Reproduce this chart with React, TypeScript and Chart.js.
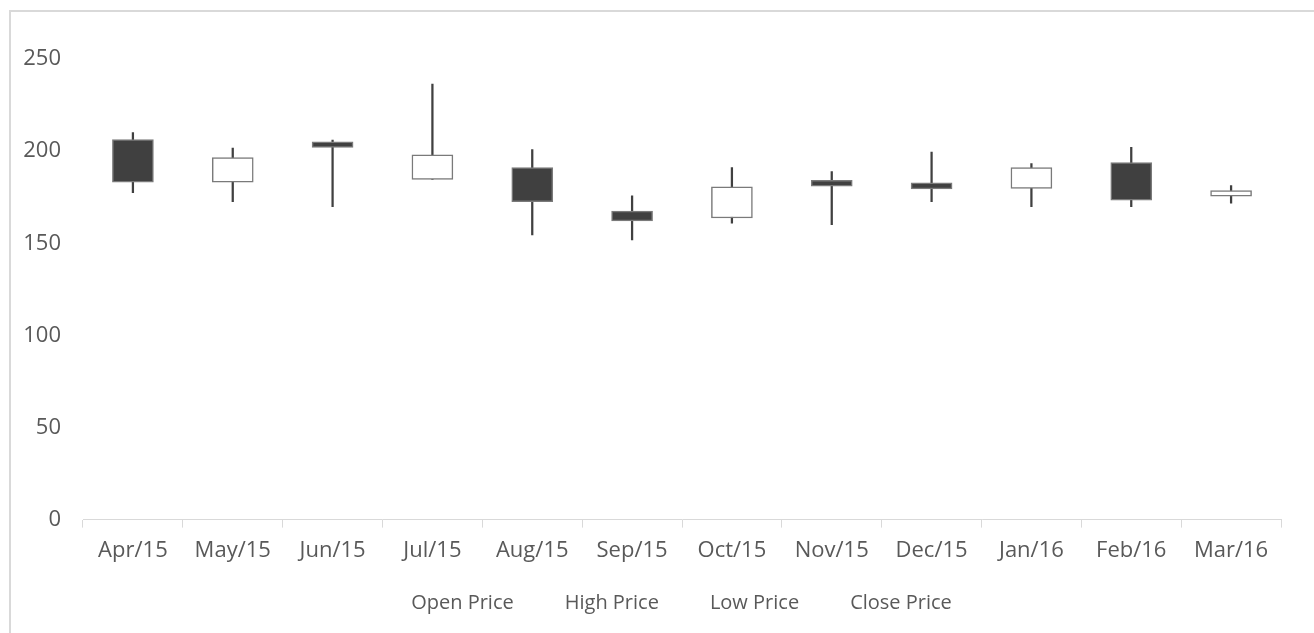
import React, { useEffect, useRef } from "react";
import { Chart, registerables } from "chart.js";

Chart.register(...registerables);

const categories = ["Apr/15", "May/15", "Jun/15", "Jul/15", "Aug/15", "Sep/15", "Oct/15", "Nov/15", "Dec/15", "Jan/16", "Feb/16", "Mar/16"];
const openPrice = [206.3, 183.2, 205.1, 184.6, 191.1, 167.4, 163.7, 184.2, 182.8, 179.7, 193.8, 175.5];
const highPrice = [210.0, 201.6, 206.0, 236.4, 200.9, 175.7, 191.1, 188.9, 199.5, 193.3, 202.0, 181.3];
const lowPrice = [177.5, 172.6, 169.9, 184.6, 154.5, 151.8, 160.9, 160.1, 172.6, 169.9, 169.9, 171.7];
const closePrice = [183.2, 196.5, 202.0, 198.0, 172.6, 162.1, 180.6, 181.0, 179.5, 191.1, 173.4, 178.6];
const legendNames = ["Open Price", "High Price", "Low Price", "Close Price"];
const yTicks = [0, 50, 100, 150, 200, 250];

const TEXT = "#595959";
const LINE = "#d9d9d9";
const DARK = "#404040";

const shiftLegend = {
  id: "shiftLegend",
  afterLayout(chart: any) {
    const l = chart.legend;
    if (l) {
      l.left += 25;
      l.right += 25;
    }
  },
};

export default function App() {
  const ref = useRef<HTMLCanvasElement | null>(null);

  useEffect(() => {
    if (!ref.current) return;
    const chart = new Chart(ref.current, {
      type: "bar",
      data: {
        labels: categories,
        datasets: [
          {
            label: "Wick",
            data: categories.map((_, i) => [lowPrice[i], highPrice[i]]),
            backgroundColor: DARK,
            borderWidth: 0,
            barThickness: 1.6,
            grouped: false,
            order: 2,
          } as any,
          {
            label: "Body",
            data: categories.map((_, i) => [openPrice[i], closePrice[i]]),
            backgroundColor: categories.map((_, i) => (closePrice[i] < openPrice[i] ? DARK : "#ffffff")),
            borderColor: "#7a7a7a",
            borderWidth: 1.5,
            borderSkipped: false,
            barThickness: 41,
            grouped: false,
            order: 1,
          } as any,
        ],
      },
      options: {
        animation: false,
        responsive: false,
        layout: { padding: { top: 59, bottom: 10, left: 0, right: 55 } },
        font: { family: "'Open Sans'" },
        plugins: {
          tooltip: { enabled: false },
          legend: {
            position: "bottom",
            labels: {
              boxWidth: 22,
              boxHeight: 0,
              padding: 19,
              color: TEXT,
              font: { family: "'Open Sans'", size: 20 },
              generateLabels: () =>
                legendNames.map((n, i) => ({
                  text: n,
                  fillStyle: "rgba(0,0,0,0)",
                  strokeStyle: "rgba(0,0,0,0)",
                  lineWidth: 0,
                  hidden: false,
                  datasetIndex: i,
                  fontColor: TEXT,
                })),
            },
          },
        },
        scales: {
          x: {
            type: "category",
            offset: true,
            grid: {
              display: true,
              drawOnChartArea: false,
              drawTicks: true,
              tickLength: 8,
              color: LINE,
              offset: true,
            },
            border: { display: true, color: LINE, width: 1 },
            ticks: {
              color: TEXT,
              font: { family: "'Open Sans'", size: 22 },
              padding: 10,
              maxRotation: 0,
              autoSkip: false,
            },
          },
          y: {
            type: "linear",
            min: 0,
            max: 250,
            grid: { display: false, drawTicks: false },
            border: { display: false },
            afterBuildTicks: (s: any) => {
              s.ticks = yTicks.map((v) => ({ value: v }));
            },
            ticks: {
              color: TEXT,
              font: { family: "'Open Sans'", size: 22 },
              padding: 22,
            },
            afterFit: (s: any) => {
              s.width = 83;
            },
          },
        },
      } as any,
      plugins: [shiftLegend],
    });
    return () => chart.destroy();
  }, []);

  return (
    <div
      style={{
        position: "fixed",
        left: 0,
        top: 0,
        width: 1314,
        height: 633,
        overflow: "hidden",
        background: "#ffffff",
      }}
    >
      <div
        style={{
          position: "absolute",
          left: 9,
          top: 10,
          width: 2000,
          height: 2000,
          borderLeft: `2px solid ${LINE}`,
          borderTop: `2px solid ${LINE}`,
        }}
      />
      <canvas ref={ref} width={1336} height={633} style={{ position: "absolute", left: 0, top: 0 }} />
    </div>
  );
}
